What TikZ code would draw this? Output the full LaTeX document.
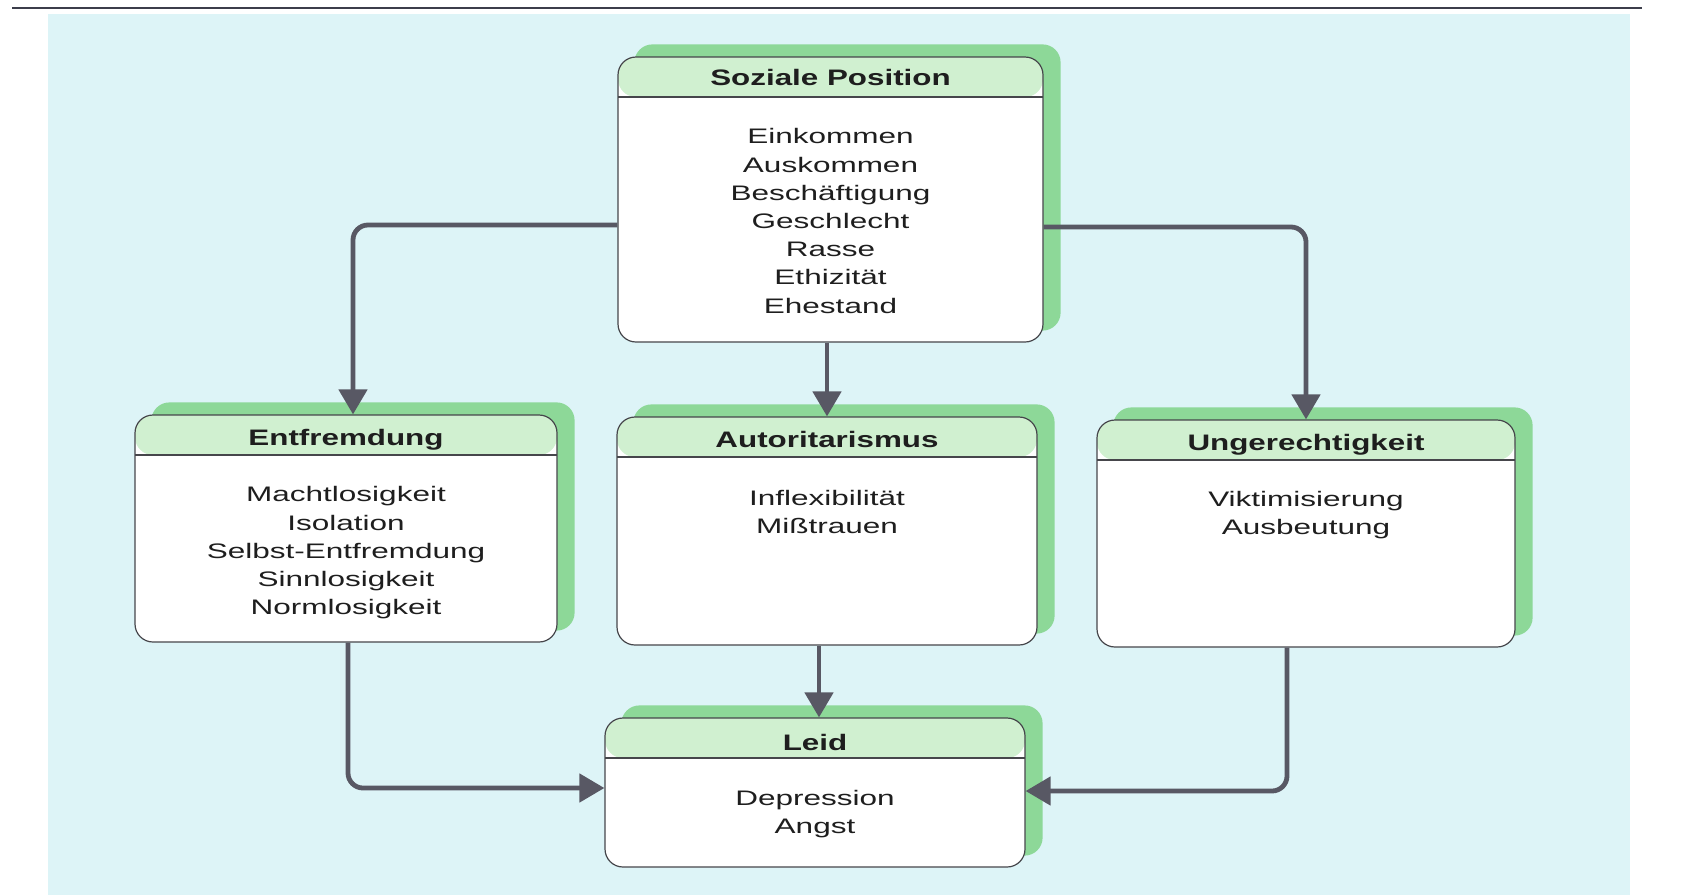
\documentclass[tikz,border=0pt]{standalone}
\usepackage{fontspec}
\setmainfont{Liberation Sans}
\newfontfamily\bodyfont{Liberation Sans}[FakeStretch=1.5]
\newfontfamily\titlefont{Liberation Sans}[FakeStretch=1.4]
\usetikzlibrary{arrows.meta,calc,backgrounds}
\definecolor{bgcyan}{RGB}{221,244,247}
\definecolor{hdgreen}{RGB}{208,240,208}
\definecolor{shgreen}{RGB}{141,216,152}
\definecolor{linegray}{RGB}{70,70,75}
\definecolor{arrowgray}{RGB}{88,88,100}
\definecolor{txt}{RGB}{30,30,30}
\definecolor{topline}{RGB}{60,62,75}
\tikzset{
  box/.style={draw=linegray, line width=0.6pt, fill=white, rounded corners=9pt, inner sep=0pt,
    path picture={
      \fill[hdgreen] (path picture bounding box.north west) rectangle ($(path picture bounding box.north east)+(0,40)$);
      \draw[linegray, line width=0.6pt] ($(path picture bounding box.north west)+(0,40)$) -- ($(path picture bounding box.north east)+(0,40)$);
    }},
  shadowbox/.style={fill=shgreen, rounded corners=9pt},
  ttl/.style={font=\titlefont\bfseries\fontsize{11.2}{13}\selectfont, text=txt, anchor=base, inner sep=0pt},
  bdy/.style={font=\bodyfont\fontsize{10.5}{14.1}\selectfont, text=txt, align=center, inner sep=0pt},
  conn/.style={draw=arrowgray, line width=2.4pt, rounded corners=7.5pt, -{Triangle[width=14pt,length=12.5pt]}}
}
\begin{document}
\begin{tikzpicture}[x=0.5pt,y=-0.5pt]
\useasboundingbox (0,0) rectangle (1691,895);
% boxes
\node[box, minimum width=212.5pt, minimum height=142.5pt] (sp) at (830.5,199.5) {};
\node[box, minimum width=211pt, minimum height=113.5pt] (ef) at (346,528.5) {};
\node[box, minimum width=210pt, minimum height=114pt] (au) at (827,531) {};
\node[box, minimum width=209pt, minimum height=113.5pt] (un) at (1306,533.5) {};
\node[box, minimum width=210pt, minimum height=74.5pt] (le) at (815,792.5) {};
% background and shadows
\begin{scope}[on background layer]
  \fill[white] (0,0) rectangle (1691,895);
  \fill[bgcyan] (48,14) rectangle (1630,895);
  \draw[topline, line width=1.2pt] (12,8) -- (1642,8);
  \foreach \b in {sp,ef,au,un,le}{
    \fill[shadowbox] ($(\b.south west)+(17,-12)$) rectangle ($(\b.north east)+(17,-12)$);
  }
\end{scope}
% titles
\node[ttl] (spt) at ($(sp.north)+(0,29)$) {Soziale Position};
\node[ttl] (eft) at ($(ef.north)+(0,31)$) {Entfremdung};
\node[ttl] (aut) at ($(au.north)+(0,31)$) {Autoritarismus};
\node[ttl] (unt) at ($(un.north)+(0,31)$) {Ungerechtigkeit};
\node[ttl] (let) at ($(le.north)+(0,33)$) {Leid};
% bodies
\node[bdy] (spb) at ($(sp.north)+(0,164.6)$) {Einkommen\\Auskommen\\Beschäftigung\\Geschlecht\\Rasse\\Ethizität\\Ehestand};
\node[bdy] (efb) at ($(ef.north)+(0,138.4)$) {Machtlosigkeit\\Isolation\\Selbst-Entfremdung\\Sinnlosigkeit\\Normlosigkeit};
\node[bdy] (aub) at ($(au.north)+(0,95.5)$) {Inflexibilität\\Mißtrauen};
\node[bdy] (unb) at ($(un.north)+(0,96)$) {Viktimisierung\\Ausbeutung};
\node[bdy] (leb) at ($(le.north)+(0,96.5)$) {Depression\\Angst};
% connectors
\draw[conn] ($(sp.west)+(0,25.5)$) -| ($(ef.north)+(7,0)$);
\draw[conn] ($(sp.east)+(0,27.5)$) -| (un.north);
\draw[conn] (au.north |- sp.south) -- (au.north);
\draw[conn] ($(au.south)+(-8,0)$) -- ($(le.north)+(4,0)$);
\draw[conn] ($(ef.south)+(2,0)$) |- ($(le.west)+(0,-4.5)$);
\draw[conn] ($(un.south)+(-19,0)$) |- ($(le.east)+(0,-1.5)$);
\end{tikzpicture}
\end{document}
